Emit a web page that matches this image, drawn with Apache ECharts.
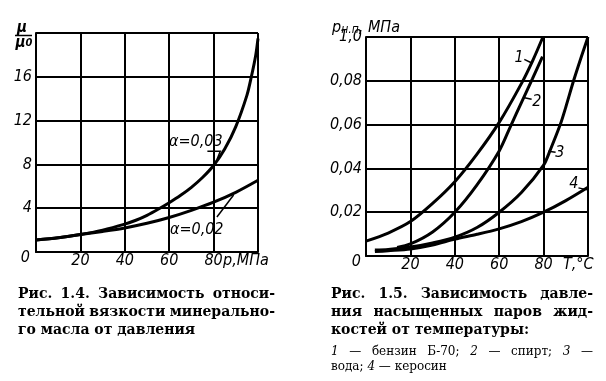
<!DOCTYPE html>
<html>
<head>
<meta charset="utf-8">
<script src="https://cdn.jsdelivr.net/npm/echarts@6/dist/echarts.min.js"></script>
<style>
html,body{margin:0;padding:0;background:#fff;}
#c{width:606px;height:381px;}
</style>
</head>
<body>
<div id="c"></div>
<script>
// ---------- Fig 1.4 data ----------
const pressure03 = [0, 10, 20, 30, 40, 45, 50, 55, 60, 65, 70, 75, 80, 85, 90, 95, 97, 99, 100];
const visc03     = [1.1, 1.3, 1.6, 2.0, 2.55, 2.9, 3.35, 3.9, 4.5, 5.15, 5.9, 6.8, 7.9, 9.4, 11.45, 14.3, 16, 18, 19.5];
const pressure02 = [0, 10, 20, 30, 40, 50, 60, 70, 80, 90, 100];
const visc02     = [1.1, 1.3, 1.6, 1.88, 2.2, 2.62, 3.15, 3.8, 4.55, 5.45, 6.55];
const xTicks1 = {0: '', 20: '20', 40: '40', 60: '60', 80: '80', 100: ''};
const yTicks1 = {0: '0', 4: '4', 8: '8', 12: '12', 16: '16', 20: ''};

// ---------- Fig 1.5 data ----------
const temp1 = [0, 10, 20, 30, 40, 50, 60, 70, 75, 79.7];
const pres1 = [0.0068, 0.0105, 0.0157, 0.024, 0.0339, 0.0465, 0.061, 0.0787, 0.089, 0.1];
const temp2 = [14, 20, 30, 40, 50, 60, 65, 70, 75, 79.5];
const pres2 = [0.0039, 0.0055, 0.011, 0.02, 0.0325, 0.048, 0.059, 0.07, 0.081, 0.091];
const temp3 = [4, 10, 20, 30, 40, 50, 60, 70, 80, 83, 87.5, 90, 93.5, 97, 100];
const pres3 = [0.0027, 0.003, 0.0041, 0.006, 0.0086, 0.013, 0.02, 0.029, 0.0415, 0.0484, 0.06, 0.068, 0.08, 0.091, 0.1];
const temp4 = [4, 10, 20, 30, 40, 50, 60, 70, 80, 90, 100];
const pres4 = [0.002, 0.0024, 0.0032, 0.005, 0.0077, 0.0099, 0.0124, 0.0157, 0.02, 0.0253, 0.0314];
const xTicks2 = {0: '', 20: '20', 40: '40', 60: '60', 80: '80', 100: ''};
const yTicks2 = ['0', '0,02', '0,04', '0,06', '0,08', '1,0'];

const captionL = ['Рис. 1.4. Зависимость относи-', 'тельной вязкости минерально-', 'го масла от давления'];
const captionR = ['Рис. 1.5. Зависимость давле-', 'ния насыщенных паров жид-', 'костей от температуры:'];
const legendLine1 = ['*1', '—', 'бензин', 'Б-70;', '*2', '—', 'спирт;', '*3', '—'];
const legendLine2 = 'вода; {i|4} — керосин';

const FONT = "'Liberation Sans Narrow', 'DejaVu Sans Condensed', sans-serif";
const SERIF = "'DejaVu Serif', 'Liberation Serif', serif";

function pairs(xs, ys) { return xs.map((x, i) => [x, ys[i]]); }

const chart = echarts.init(document.getElementById('c'), null, {renderer: 'canvas'});

const axisLabelStyle = {color: '#000', fontFamily: FONT, fontStyle: 'italic', fontSize: 16};
const lineBlack = {color: '#000', width: 2};

function lineSeries(xi, yi, data) {
  return {
    type: 'line', xAxisIndex: xi, yAxisIndex: yi, data: data, smooth: 0.3,
    symbol: 'none', lineStyle: {color: '#000', width: 3}, silent: true, z: 5
  };
}

chart.setOption({
  backgroundColor: '#fff',
  animation: false,
  grid: [
    {left: 36, top: 33, width: 222, height: 219},
    {left: 366, top: 37, width: 222, height: 219}
  ],
  xAxis: [
    {
      gridIndex: 0, type: 'value', min: 0, max: 100, interval: 20,
      axisLine: {lineStyle: lineBlack}, axisTick: {show: false},
      splitLine: {lineStyle: lineBlack},
      axisLabel: Object.assign({margin: 1, formatter: v => xTicks1[v] ?? ''}, axisLabelStyle),
      name: 'р,МПа', nameLocation: 'end', nameGap: -35, nameMoveOverlap: false,
      nameTextStyle: Object.assign({align: 'left', verticalAlign: 'top', padding: [1, 0, 0, 0]}, axisLabelStyle)
    },
    {
      gridIndex: 1, type: 'value', min: 0, max: 100, interval: 20,
      axisLine: {lineStyle: lineBlack}, axisTick: {show: false},
      splitLine: {lineStyle: lineBlack},
      axisLabel: Object.assign({margin: 1, formatter: v => xTicks2[v] ?? ''}, axisLabelStyle),
      name: 'Т,°С', nameLocation: 'end', nameGap: -25, nameMoveOverlap: false,
      nameTextStyle: Object.assign({align: 'left', verticalAlign: 'top', padding: [1, 0, 0, 0]}, axisLabelStyle)
    }
  ],
  yAxis: [
    {
      gridIndex: 0, type: 'value', min: 0, max: 20, interval: 4,
      axisLine: {lineStyle: lineBlack}, axisTick: {show: false},
      splitLine: {lineStyle: lineBlack},
      axisLabel: Object.assign({
        margin: 4,
        formatter: v => v === 0 ? '{z|0}' : (yTicks1[v] ?? ''),
        rich: {z: {fontFamily: FONT, fontStyle: 'italic', fontSize: 16, color: '#000', padding: [11, 2, 0, 0]}}
      }, axisLabelStyle)
    },
    {
      gridIndex: 1, type: 'value', min: 0, max: 0.1, interval: 0.02,
      axisLine: {lineStyle: lineBlack}, axisTick: {show: false},
      splitLine: {lineStyle: lineBlack},
      axisLabel: Object.assign({
        margin: 4,
        formatter: (v) => {
          const k = Math.round(v / 0.02);
          return k === 0 ? '{z|0}' : (yTicks2[k] ?? '');
        },
        rich: {z: {fontFamily: FONT, fontStyle: 'italic', fontSize: 16, color: '#000', padding: [11, 1, 0, 0]}}
      }, axisLabelStyle),
      name: '{p|р}{s|н.п}{p|, МПа}', nameLocation: 'end', nameGap: -2, nameMoveOverlap: false,
      nameTextStyle: {
        align: 'center',
        rich: {
          p: {fontFamily: FONT, fontStyle: 'italic', fontSize: 16, color: '#000', padding: [0, 0, 3, 0]},
          s: {fontFamily: FONT, fontStyle: 'italic', fontSize: 12, color: '#000'}
        }
      }
    }
  ],
  series: [
    lineSeries(0, 0, pairs(pressure03, visc03)),
    lineSeries(0, 0, pairs(pressure02, visc02)),
    lineSeries(1, 1, pairs(temp1, pres1)),
    lineSeries(1, 1, pairs(temp2, pres2)),
    lineSeries(1, 1, pairs(temp3, pres3)),
    lineSeries(1, 1, pairs(temp4, pres4))
  ]
});

// ---------- annotations (in data coordinates) ----------
const notes1 = [
  {text: 'α=0,03', at: [72, 10.05], leader: [[77.2, 9.2], [83.0, 9.2], [81.6, 8.5]]},
  {text: 'α=0,02', at: [72.4, 1.98], leader: [[81.5, 3.19], [89.0, 5.2]]}
];
const notes2 = [
  {text: '1', at: [69.0, 0.0907], leader: [[71.3, 0.0898], [74.9, 0.088]]},
  {text: '2', at: [76.9, 0.0702], leader: [[74.6, 0.0716], [71.4, 0.0723]]},
  {text: '3', at: [87.3, 0.0472], leader: [[85.4, 0.0474], [82.1, 0.0478]]},
  {text: '4', at: [93.6, 0.0329], leader: [[95.7, 0.0311], [99.8, 0.0302]]}
];

const g = [];
function addNotes(notes, gridIndex) {
  notes.forEach(n => {
    const p = chart.convertToPixel({gridIndex: gridIndex}, n.at);
    g.push({type: 'text', x: p[0], y: p[1], z: 10,
      style: {text: n.text, fill: '#000', font: 'italic 16px ' + FONT, align: 'center', verticalAlign: 'middle'}});
    const pts = n.leader.map(d => chart.convertToPixel({gridIndex: gridIndex}, d));
    g.push({type: 'polyline', z: 10, shape: {points: pts}, style: {stroke: '#000', lineWidth: 1.5, fill: null}});
  });
}
addNotes(notes1, 0);
addNotes(notes2, 1);

// y-axis name of Fig 1.4 : μ / μ0
g.push({type: 'text', x: 22, y: 28, style: {text: 'μ', fill: '#000', font: 'italic bold 15px ' + FONT, align: 'center', verticalAlign: 'middle'}});
g.push({type: 'line', shape: {x1: 15, y1: 35.5, x2: 32, y2: 35.5}, style: {stroke: '#000', lineWidth: 1.5}});
g.push({type: 'text', x: 24, y: 43, style: {
  text: '{m|μ}{s|0}', align: 'center', verticalAlign: 'middle',
  rich: {m: {font: 'italic bold 15px ' + FONT, fill: '#000'}, s: {font: 'italic bold 11px ' + FONT, fill: '#000'}}
}});

// captions (justified lines like the book)
const measureCtx = document.createElement('canvas').getContext('2d');
function textWidth(t, font) { measureCtx.font = font; return measureCtx.measureText(t).width; }
function justify(words, x0, x1, y, fontFor) {
  const widths = words.map(w => textWidth(w.replace(/^\*/, ''), fontFor(w)));
  const total = widths.reduce((a, b) => a + b, 0);
  const gap = (x1 - x0 - total) / (words.length - 1);
  let x = x0;
  words.forEach((w, i) => {
    g.push({type: 'text', x: x, y: y, style: {text: w.replace(/^\*/, ''), fill: '#000', font: fontFor(w), align: 'left', verticalAlign: 'middle'}});
    x += widths[i] + gap;
  });
}
const capFont = 'bold 14px ' + SERIF;
const capFn = () => capFont;
function captionBlock(lines, x0, x1) {
  lines.forEach((t, i) => {
    const y = 294 + i * 18;
    if (i < lines.length - 1) justify(t.split(' '), x0, x1, y, capFn);
    else g.push({type: 'text', x: x0, y: y, style: {text: t, fill: '#000', font: capFont, align: 'left', verticalAlign: 'middle'}});
  });
}
captionBlock(captionL, 18, 275);
captionBlock(captionR, 331, 593);
justify(legendLine1, 331, 593, 352, w => (w[0] === '*' ? 'italic 12px ' : '12px ') + SERIF);
g.push({type: 'text', x: 331, y: 367, style: {
  text: legendLine2, align: 'left', verticalAlign: 'middle', font: '12px ' + SERIF, fill: '#000',
  rich: {i: {font: 'italic 12px ' + SERIF, fill: '#000'}}
}});

chart.setOption({graphic: g});
</script>
</body>
</html>
